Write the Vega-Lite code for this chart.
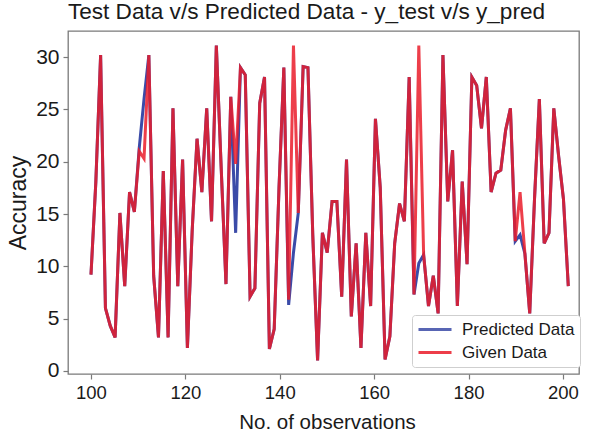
{
  "$schema": "https://vega.github.io/schema/vega-lite/v6.json",
  "autosize": {"type": "none"},
  "width": 511,
  "height": 343,
  "padding": {"left": 68, "top": 31, "right": 15, "bottom": 62},
  "background": "white",
  "config": {
    "font": "Liberation Sans",
    "view": {"stroke": "#7a7a7a", "strokeWidth": 1.3},
    "axis": {"grid": false, "domain": false, "tickColor": "#7a7a7a", "tickWidth": 1.2, "tickSize": 5, "labelColor": "#1a1a1a", "titleColor": "#1a1a1a", "titleFontWeight": "normal"}
  },
  "title": {"text": "Test Data v/s Predicted Data - y_test v/s y_pred", "fontSize": 22.6, "fontWeight": "normal", "color": "#1a1a1a", "anchor": "middle", "frame": "group", "dx": -17, "dy": 23, "baseline": "bottom", "offset": 7},
  "data": {"values": [
    {"obs": 100.00, "given": 9.2, "pred": 9.2},
    {"obs": 101.02, "given": 18.0, "pred": 18.0},
    {"obs": 102.04, "given": 30.2, "pred": 30.2},
    {"obs": 103.06, "given": 6.0, "pred": 6.0},
    {"obs": 104.09, "given": 4.3, "pred": 4.3},
    {"obs": 105.11, "given": 3.2, "pred": 3.2},
    {"obs": 106.13, "given": 15.1, "pred": 15.1},
    {"obs": 107.15, "given": 8.1, "pred": 8.1},
    {"obs": 108.17, "given": 17.1, "pred": 17.1},
    {"obs": 109.19, "given": 15.2, "pred": 15.2},
    {"obs": 110.22, "given": 21.0, "pred": 21.3},
    {"obs": 111.24, "given": 20.3, "pred": 26.0},
    {"obs": 112.26, "given": 30.2, "pred": 30.2},
    {"obs": 113.28, "given": 9.1, "pred": 9.1},
    {"obs": 114.30, "given": 3.2, "pred": 3.2},
    {"obs": 115.32, "given": 19.1, "pred": 19.1},
    {"obs": 116.34, "given": 3.2, "pred": 3.2},
    {"obs": 117.37, "given": 25.1, "pred": 25.1},
    {"obs": 118.39, "given": 8.1, "pred": 8.1},
    {"obs": 119.41, "given": 20.2, "pred": 20.2},
    {"obs": 120.43, "given": 2.2, "pred": 2.2},
    {"obs": 121.45, "given": 13.5, "pred": 13.5},
    {"obs": 122.47, "given": 22.2, "pred": 22.2},
    {"obs": 123.49, "given": 17.1, "pred": 17.1},
    {"obs": 124.52, "given": 25.1, "pred": 25.1},
    {"obs": 125.54, "given": 14.3, "pred": 14.3},
    {"obs": 126.56, "given": 31.1, "pred": 31.1},
    {"obs": 127.58, "given": 19.5, "pred": 19.5},
    {"obs": 128.60, "given": 8.3, "pred": 8.3},
    {"obs": 129.62, "given": 26.2, "pred": 26.2},
    {"obs": 130.65, "given": 19.8, "pred": 13.2},
    {"obs": 131.67, "given": 29.0, "pred": 29.0},
    {"obs": 132.69, "given": 28.3, "pred": 28.3},
    {"obs": 133.71, "given": 7.1, "pred": 7.1},
    {"obs": 134.73, "given": 7.9, "pred": 7.9},
    {"obs": 135.75, "given": 25.6, "pred": 25.6},
    {"obs": 136.77, "given": 28.1, "pred": 28.1},
    {"obs": 137.80, "given": 2.1, "pred": 2.1},
    {"obs": 138.82, "given": 4.0, "pred": 4.0},
    {"obs": 139.84, "given": 17.5, "pred": 17.5},
    {"obs": 140.86, "given": 29.0, "pred": 29.0},
    {"obs": 141.88, "given": 6.8, "pred": 6.3},
    {"obs": 142.90, "given": 31.1, "pred": 11.3},
    {"obs": 143.92, "given": 15.1, "pred": 15.1},
    {"obs": 144.95, "given": 29.1, "pred": 29.1},
    {"obs": 145.97, "given": 29.0, "pred": 29.0},
    {"obs": 146.99, "given": 13.0, "pred": 13.0},
    {"obs": 148.01, "given": 1.0, "pred": 1.0},
    {"obs": 149.03, "given": 13.2, "pred": 13.2},
    {"obs": 150.05, "given": 11.3, "pred": 11.3},
    {"obs": 151.08, "given": 16.2, "pred": 16.2},
    {"obs": 152.10, "given": 16.2, "pred": 16.2},
    {"obs": 153.12, "given": 7.1, "pred": 7.1},
    {"obs": 154.14, "given": 20.2, "pred": 20.2},
    {"obs": 155.16, "given": 5.2, "pred": 5.2},
    {"obs": 156.18, "given": 12.2, "pred": 12.2},
    {"obs": 157.20, "given": 2.2, "pred": 2.2},
    {"obs": 158.23, "given": 13.2, "pred": 13.2},
    {"obs": 159.25, "given": 6.2, "pred": 6.2},
    {"obs": 160.27, "given": 24.1, "pred": 24.1},
    {"obs": 161.29, "given": 17.5, "pred": 17.5},
    {"obs": 162.31, "given": 1.1, "pred": 1.1},
    {"obs": 163.33, "given": 3.3, "pred": 3.3},
    {"obs": 164.35, "given": 12.2, "pred": 12.2},
    {"obs": 165.38, "given": 16.0, "pred": 16.0},
    {"obs": 166.40, "given": 14.3, "pred": 14.3},
    {"obs": 167.42, "given": 28.1, "pred": 28.1},
    {"obs": 168.44, "given": 7.3, "pred": 7.3},
    {"obs": 169.46, "given": 31.1, "pred": 10.3},
    {"obs": 170.48, "given": 11.1, "pred": 11.1},
    {"obs": 171.51, "given": 6.2, "pred": 6.2},
    {"obs": 172.53, "given": 9.1, "pred": 9.1},
    {"obs": 173.55, "given": 5.5, "pred": 5.5},
    {"obs": 174.57, "given": 30.2, "pred": 30.2},
    {"obs": 175.59, "given": 16.2, "pred": 16.2},
    {"obs": 176.61, "given": 21.1, "pred": 21.1},
    {"obs": 177.63, "given": 6.2, "pred": 6.2},
    {"obs": 178.66, "given": 18.1, "pred": 18.1},
    {"obs": 179.68, "given": 10.2, "pred": 10.2},
    {"obs": 180.70, "given": 28.1, "pred": 28.1},
    {"obs": 181.72, "given": 27.3, "pred": 27.3},
    {"obs": 182.74, "given": 23.2, "pred": 23.2},
    {"obs": 183.76, "given": 28.1, "pred": 28.1},
    {"obs": 184.78, "given": 17.1, "pred": 17.1},
    {"obs": 185.81, "given": 18.9, "pred": 18.9},
    {"obs": 186.83, "given": 19.2, "pred": 19.2},
    {"obs": 187.85, "given": 23.0, "pred": 23.0},
    {"obs": 188.87, "given": 25.1, "pred": 25.1},
    {"obs": 189.89, "given": 12.4, "pred": 12.4},
    {"obs": 190.91, "given": 17.1, "pred": 13.0},
    {"obs": 191.94, "given": 11.2, "pred": 11.2},
    {"obs": 192.96, "given": 5.5, "pred": 5.5},
    {"obs": 193.98, "given": 16.5, "pred": 16.5},
    {"obs": 195.00, "given": 26.0, "pred": 26.0},
    {"obs": 196.02, "given": 12.2, "pred": 12.2},
    {"obs": 197.04, "given": 13.2, "pred": 13.2},
    {"obs": 198.06, "given": 25.1, "pred": 25.1},
    {"obs": 199.09, "given": 20.5, "pred": 20.5},
    {"obs": 200.11, "given": 16.4, "pred": 16.4},
    {"obs": 201.13, "given": 8.1, "pred": 8.1}
  ]},
  "encoding": {
    "x": {"field": "obs", "type": "quantitative",
      "scale": {"domain": [95.13, 203.4], "nice": false, "zero": false},
      "axis": {"values": [100, 120, 140, 160, 180, 200], "labelFontSize": 18.5, "labelPadding": 4, "title": "No. of observations", "titleFontSize": 20.5, "titleX": 259, "titleY": 48, "titleBaseline": "middle", "titleAlign": "center"}}
  },
  "layer": [
    {
      "mark": {"type": "line", "strokeWidth": 3},
      "encoding": {
        "y": {"field": "pred", "type": "quantitative", "title": "Accuracy",
          "scale": {"domain": [-0.3, 32.5], "nice": false, "zero": false},
          "axis": {"values": [0, 5, 10, 15, 20, 25, 30], "labelFontSize": 21, "labelPadding": 4, "titleFontSize": 23, "titleX": -50, "titleY": 171.5, "titleAngle": -90, "titleBaseline": "middle", "titleAlign": "center"}},
        "color": {"datum": "Predicted Data", "type": "nominal",
          "scale": {"domain": ["Predicted Data", "Given Data"], "range": ["#3b4ba8", "#ea1c2a"]},
          "legend": {"title": null, "orient": "none", "legendX": 344, "legendY": 284, "labelFontSize": 17, "labelColor": "#1a1a1a", "symbolType": "stroke", "symbolSize": 1089, "symbolStrokeWidth": 3, "symbolOpacity": 1, "clipHeight": 19, "labelOffset": 9, "rowPadding": 4, "padding": 5, "strokeColor": "#cfcfcf", "fillColor": "white", "cornerRadius": 3}}
      }
    },
    {
      "mark": {"type": "line", "strokeWidth": 3, "opacity": 0.85},
      "encoding": {
        "y": {"field": "given", "type": "quantitative", "title": "Accuracy"},
        "color": {"datum": "Given Data", "type": "nominal"}
      }
    }
  ]
}
